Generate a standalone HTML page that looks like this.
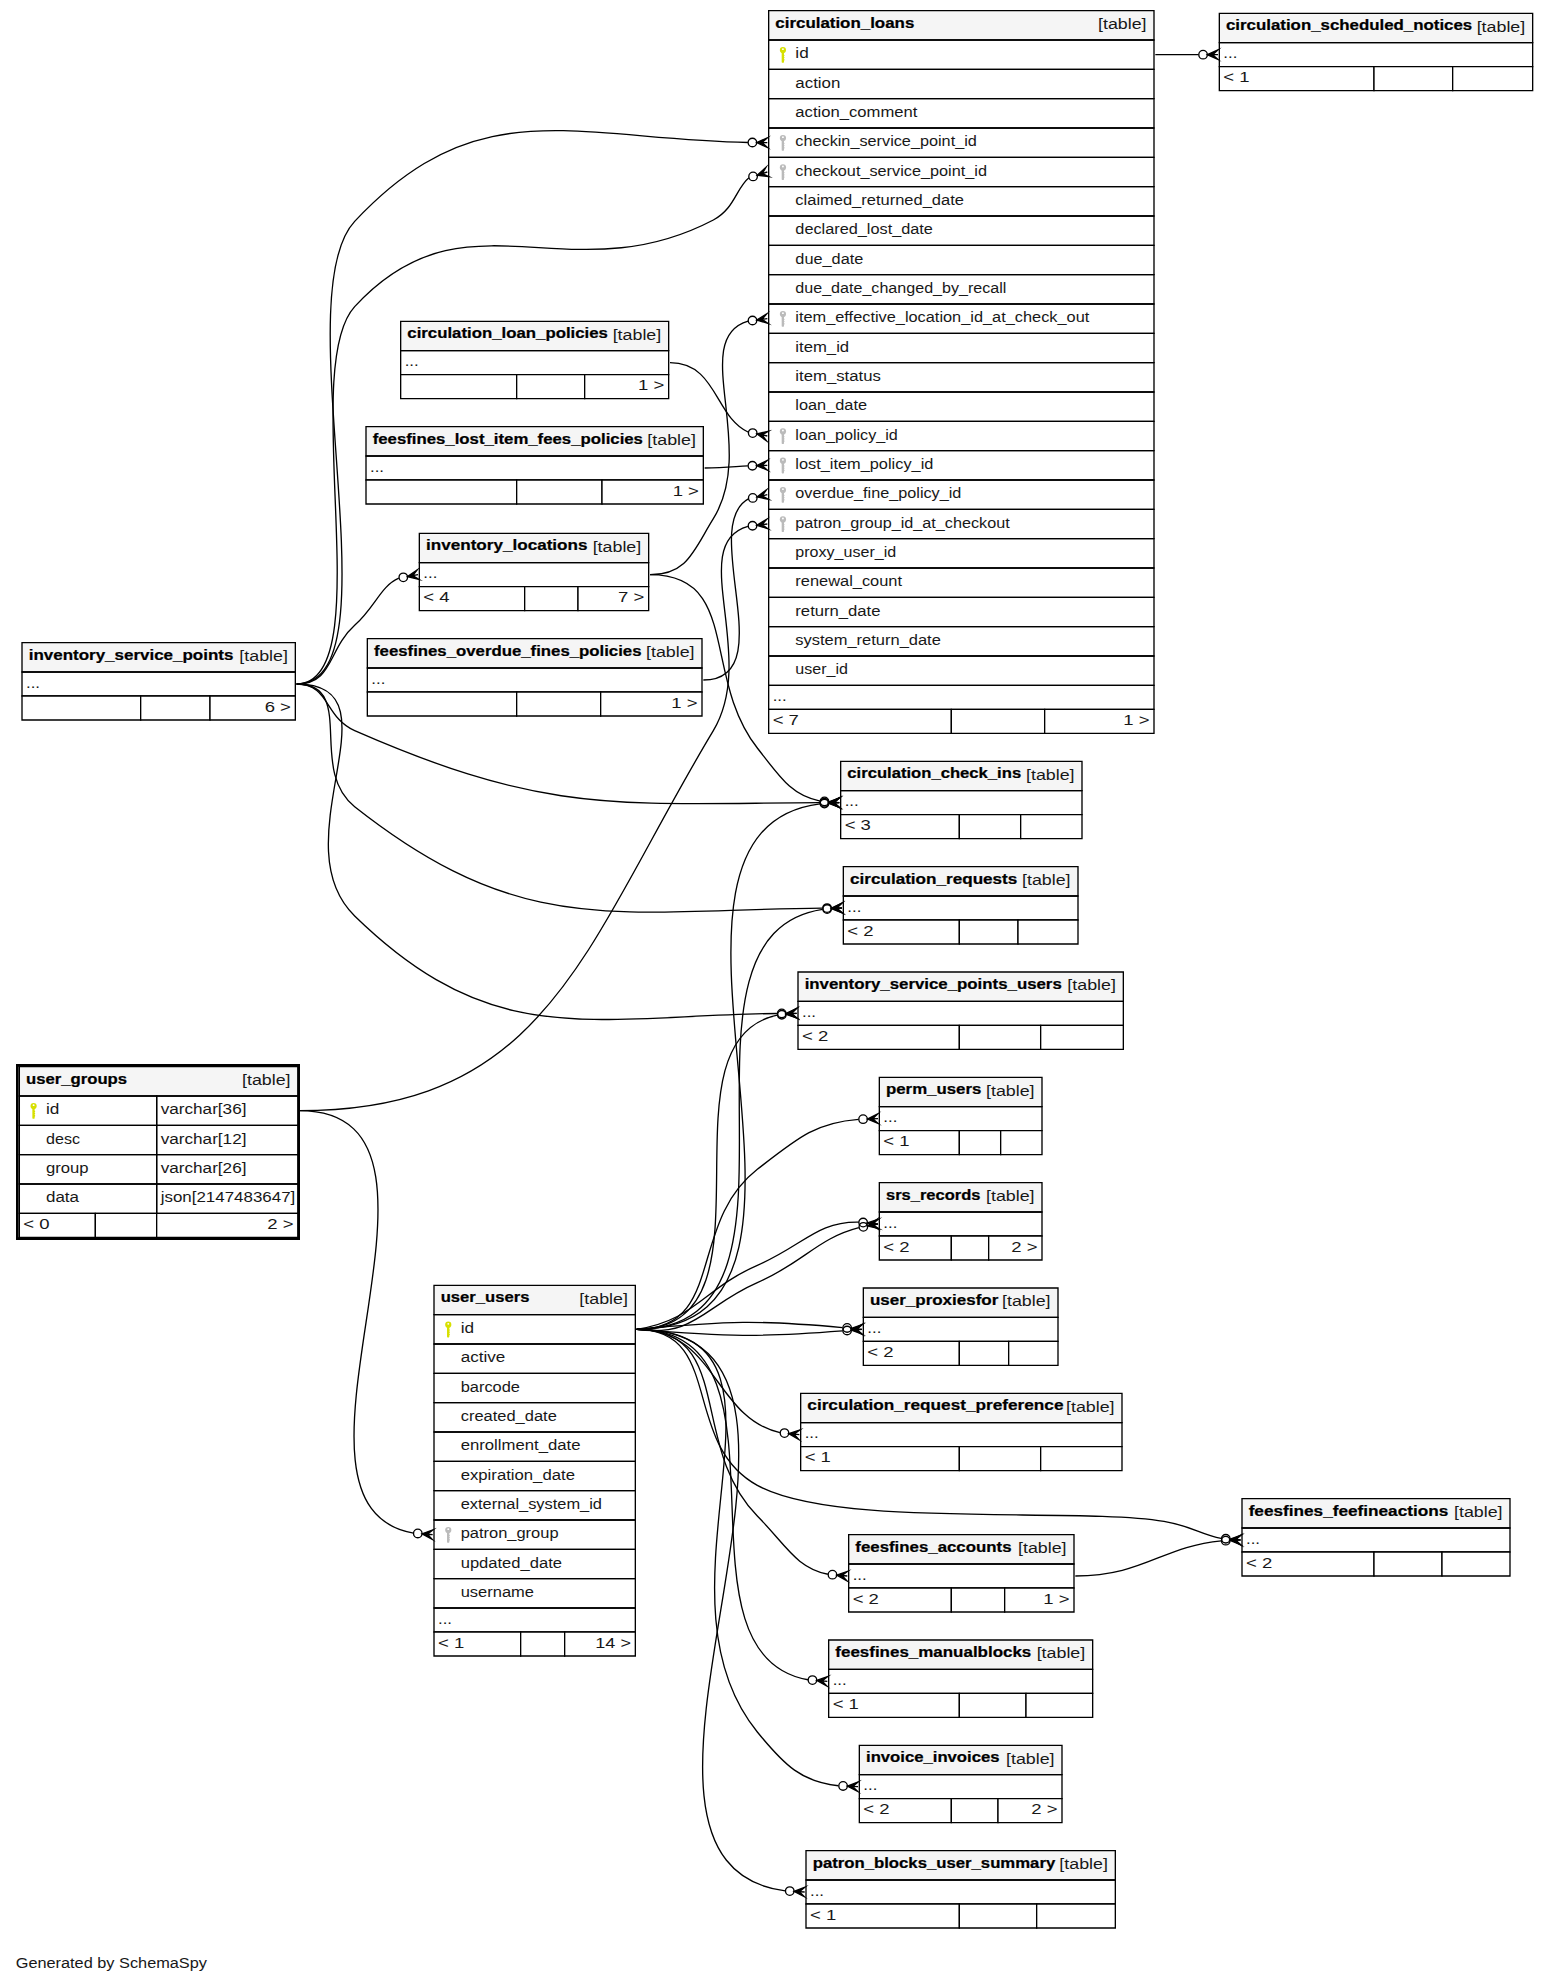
<!DOCTYPE html>
<html><head><meta charset="utf-8"><title>SchemaSpy diagram</title>
<style>html,body{margin:0;padding:0;background:#ffffff;}svg{display:block;}text{font-family:"Liberation Sans",sans-serif;}</style>
</head><body>
<svg width="1548" height="1982.67"
 viewBox="0.00 0.00 1161.00 1487.00">
<g id="graph0" class="graph" transform="scale(1 1) rotate(0) translate(4 1483)">
<polygon fill="#ffffff" stroke="transparent" points="-4,4 -4,-1483 1157,-1483 1157,4 -4,4"/>
<text text-anchor="middle" x="79.5" y="-7.2" font-family="Liberation Sans" font-size="11.35" fill="#181818" textLength="143.45" lengthAdjust="spacingAndGlyphs">Generated by SchemaSpy</text>
<g id="node1" class="node">
<g id="a_node1"><g>
<polygon fill="#ffffff" stroke="transparent" points="626,-854 626,-912 807,-912 807,-854 626,-854"/>
<polygon fill="#f5f5f5" stroke="transparent" points="626.5,-890 626.5,-912 807.5,-912 807.5,-890 626.5,-890"/>
<polygon fill="none" stroke="black" points="626.5,-890 626.5,-912 807.5,-912 807.5,-890 626.5,-890"/>
<text text-anchor="start" x="631.5" y="-899.2" font-family="Liberation Sans" font-weight="bold" font-size="11.35" stroke="#000000" stroke-width="0.18" textLength="130.38" lengthAdjust="spacingAndGlyphs">circulation_check_ins</text>
<text text-anchor="start" x="765.5" y="-898.2" font-family="Liberation Sans" font-size="11.35" fill="#181818" textLength="36.42" lengthAdjust="spacingAndGlyphs">[table]</text>
<polygon fill="none" stroke="black" points="626.5,-872 626.5,-890 807.5,-890 807.5,-872 626.5,-872"/>
<text text-anchor="start" x="629.5" y="-878.2" font-family="Liberation Sans" font-size="11.35" fill="#181818" textLength="10.49" lengthAdjust="spacingAndGlyphs">...</text>
<polygon fill="#ffffff" stroke="transparent" points="626.5,-854 626.5,-872 715.5,-872 715.5,-854 626.5,-854"/>
<polygon fill="none" stroke="black" points="626.5,-854 626.5,-872 715.5,-872 715.5,-854 626.5,-854"/>
<text text-anchor="start" x="629.5" y="-860.2" font-family="Liberation Sans" font-size="11.35" fill="#181818" textLength="19.70" lengthAdjust="spacingAndGlyphs">&lt; 3</text>
<polygon fill="#ffffff" stroke="transparent" points="715.5,-854 715.5,-872 761.5,-872 761.5,-854 715.5,-854"/>
<polygon fill="none" stroke="black" points="715.5,-854 715.5,-872 761.5,-872 761.5,-854 715.5,-854"/>

<polygon fill="#ffffff" stroke="transparent" points="761.5,-854 761.5,-872 807.5,-872 807.5,-854 761.5,-854"/>
<polygon fill="none" stroke="black" points="761.5,-854 761.5,-872 807.5,-872 807.5,-854 761.5,-854"/>

</g>
</g>
</g>
<g id="node2" class="node">
<g id="a_node2"><g>
<polygon fill="#ffffff" stroke="transparent" points="310.5,-1025 310.5,-1083 482.5,-1083 482.5,-1025 310.5,-1025"/>
<polygon fill="#f5f5f5" stroke="transparent" points="310.5,-1061 310.5,-1083 482.5,-1083 482.5,-1061 310.5,-1061"/>
<polygon fill="none" stroke="black" points="310.5,-1061 310.5,-1083 482.5,-1083 482.5,-1061 310.5,-1061"/>
<text text-anchor="start" x="315.5" y="-1070.2" font-family="Liberation Sans" font-weight="bold" font-size="11.35" stroke="#000000" stroke-width="0.18" textLength="121.13" lengthAdjust="spacingAndGlyphs">inventory_locations</text>
<text text-anchor="start" x="440.5" y="-1069.2" font-family="Liberation Sans" font-size="11.35" fill="#181818" textLength="36.42" lengthAdjust="spacingAndGlyphs">[table]</text>
<polygon fill="none" stroke="black" points="310.5,-1043 310.5,-1061 482.5,-1061 482.5,-1043 310.5,-1043"/>
<text text-anchor="start" x="313.5" y="-1049.2" font-family="Liberation Sans" font-size="11.35" fill="#181818" textLength="10.49" lengthAdjust="spacingAndGlyphs">...</text>
<polygon fill="#ffffff" stroke="transparent" points="310.5,-1025 310.5,-1043 389.5,-1043 389.5,-1025 310.5,-1025"/>
<polygon fill="none" stroke="black" points="310.5,-1025 310.5,-1043 389.5,-1043 389.5,-1025 310.5,-1025"/>
<text text-anchor="start" x="313.5" y="-1031.2" font-family="Liberation Sans" font-size="11.35" fill="#181818" textLength="19.70" lengthAdjust="spacingAndGlyphs">&lt; 4</text>
<polygon fill="#ffffff" stroke="transparent" points="389.5,-1025 389.5,-1043 429.5,-1043 429.5,-1025 389.5,-1025"/>
<polygon fill="none" stroke="black" points="389.5,-1025 389.5,-1043 429.5,-1043 429.5,-1025 389.5,-1025"/>

<polygon fill="#ffffff" stroke="transparent" points="429.5,-1025 429.5,-1043 482.5,-1043 482.5,-1025 429.5,-1025"/>
<polygon fill="none" stroke="black" points="429.5,-1025 429.5,-1043 482.5,-1043 482.5,-1025 429.5,-1025"/>
<text text-anchor="start" x="459.5" y="-1031.2" font-family="Liberation Sans" font-size="11.35" fill="#181818" textLength="19.70" lengthAdjust="spacingAndGlyphs">7 &gt;</text>
</g>
</g>
</g>
<g id="edge1" class="edge">
<path fill="none" stroke="black" d="M611.14,-882.2C589.57,-886.25 580.91,-900.37 564,-922 522.14,-975.54 551.46,-1052 483.5,-1052"/>
<polygon fill="black" stroke="black" stroke-miterlimit="10" points="617.53,-881.67 625.8,-884.59 621.51,-881.33 625.5,-881 625.5,-881 625.5,-881 621.51,-881.33 625.2,-877.41 617.53,-881.67 617.53,-881.67"/>
<ellipse fill="none" stroke="black" cx="614.34" cy="-881.93" rx="3.2" ry="3.2"/>
</g>
<g id="node3" class="node">
<g id="a_node3"><g>
<polygon fill="#ffffff" stroke="transparent" points="321,-241 321,-519 472,-519 472,-241 321,-241"/>
<polygon fill="#f5f5f5" stroke="transparent" points="321.5,-497 321.5,-519 472.5,-519 472.5,-497 321.5,-497"/>
<polygon fill="none" stroke="black" points="321.5,-497 321.5,-519 472.5,-519 472.5,-497 321.5,-497"/>
<text text-anchor="start" x="326.5" y="-506.2" font-family="Liberation Sans" font-weight="bold" font-size="11.35" stroke="#000000" stroke-width="0.18" textLength="66.54" lengthAdjust="spacingAndGlyphs">user_users</text>
<text text-anchor="start" x="430.5" y="-505.2" font-family="Liberation Sans" font-size="11.35" fill="#181818" textLength="36.42" lengthAdjust="spacingAndGlyphs">[table]</text>
<polygon fill="none" stroke="black" points="321.5,-475 321.5,-497 472.5,-497 472.5,-475 321.5,-475"/>
<text text-anchor="start" x="341.5" y="-483.2" font-family="Liberation Sans" font-size="11.35" fill="#181818" textLength="10.04" lengthAdjust="spacingAndGlyphs">id</text>
<polygon fill="none" stroke="black" points="321.5,-453 321.5,-475 472.5,-475 472.5,-453 321.5,-453"/>
<text text-anchor="start" x="341.5" y="-461.2" font-family="Liberation Sans" font-size="11.35" fill="#181818" textLength="33.42" lengthAdjust="spacingAndGlyphs">active</text>
<polygon fill="none" stroke="black" points="321.5,-431 321.5,-453 472.5,-453 472.5,-431 321.5,-431"/>
<text text-anchor="start" x="341.5" y="-439.2" font-family="Liberation Sans" font-size="11.35" fill="#181818" textLength="44.51" lengthAdjust="spacingAndGlyphs">barcode</text>
<polygon fill="none" stroke="black" points="321.5,-409 321.5,-431 472.5,-431 472.5,-409 321.5,-409"/>
<text text-anchor="start" x="341.5" y="-417.2" font-family="Liberation Sans" font-size="11.35" fill="#181818" textLength="72.15" lengthAdjust="spacingAndGlyphs">created_date</text>
<polygon fill="none" stroke="black" points="321.5,-387 321.5,-409 472.5,-409 472.5,-387 321.5,-387"/>
<text text-anchor="start" x="341.5" y="-395.2" font-family="Liberation Sans" font-size="11.35" fill="#181818" textLength="89.87" lengthAdjust="spacingAndGlyphs">enrollment_date</text>
<polygon fill="none" stroke="black" points="321.5,-365 321.5,-387 472.5,-387 472.5,-365 321.5,-365"/>
<text text-anchor="start" x="341.5" y="-373.2" font-family="Liberation Sans" font-size="11.35" fill="#181818" textLength="85.71" lengthAdjust="spacingAndGlyphs">expiration_date</text>
<polygon fill="none" stroke="black" points="321.5,-343 321.5,-365 472.5,-365 472.5,-343 321.5,-343"/>
<text text-anchor="start" x="341.5" y="-351.2" font-family="Liberation Sans" font-size="11.35" fill="#181818" textLength="106.00" lengthAdjust="spacingAndGlyphs">external_system_id</text>
<polygon fill="none" stroke="black" points="321.5,-321 321.5,-343 472.5,-343 472.5,-321 321.5,-321"/>
<text text-anchor="start" x="341.5" y="-329.2" font-family="Liberation Sans" font-size="11.35" fill="#181818" textLength="73.42" lengthAdjust="spacingAndGlyphs">patron_group</text>
<polygon fill="none" stroke="black" points="321.5,-299 321.5,-321 472.5,-321 472.5,-299 321.5,-299"/>
<text text-anchor="start" x="341.5" y="-307.2" font-family="Liberation Sans" font-size="11.35" fill="#181818" textLength="76.00" lengthAdjust="spacingAndGlyphs">updated_date</text>
<polygon fill="none" stroke="black" points="321.5,-277 321.5,-299 472.5,-299 472.5,-277 321.5,-277"/>
<text text-anchor="start" x="341.5" y="-285.2" font-family="Liberation Sans" font-size="11.35" fill="#181818" textLength="54.96" lengthAdjust="spacingAndGlyphs">username</text>
<polygon fill="none" stroke="black" points="321.5,-259 321.5,-277 472.5,-277 472.5,-259 321.5,-259"/>
<text text-anchor="start" x="324.5" y="-265.2" font-family="Liberation Sans" font-size="11.35" fill="#181818" textLength="10.49" lengthAdjust="spacingAndGlyphs">...</text>
<polygon fill="#ffffff" stroke="transparent" points="321.5,-241 321.5,-259 386.5,-259 386.5,-241 321.5,-241"/>
<polygon fill="none" stroke="black" points="321.5,-241 321.5,-259 386.5,-259 386.5,-241 321.5,-241"/>
<text text-anchor="start" x="324.5" y="-247.2" font-family="Liberation Sans" font-size="11.35" fill="#181818" textLength="19.70" lengthAdjust="spacingAndGlyphs">&lt; 1</text>
<polygon fill="#ffffff" stroke="transparent" points="386.5,-241 386.5,-259 419.5,-259 419.5,-241 386.5,-241"/>
<polygon fill="none" stroke="black" points="386.5,-241 386.5,-259 419.5,-259 419.5,-241 386.5,-241"/>

<polygon fill="#ffffff" stroke="transparent" points="419.5,-241 419.5,-259 472.5,-259 472.5,-241 419.5,-241"/>
<polygon fill="none" stroke="black" points="419.5,-241 419.5,-259 472.5,-259 472.5,-241 419.5,-241"/>
<text text-anchor="start" x="442.5" y="-247.2" font-family="Liberation Sans" font-size="11.35" fill="#181818" textLength="26.70" lengthAdjust="spacingAndGlyphs">14 &gt;</text>
</g>
</g>
</g>
<g id="edge2" class="edge">
<path fill="none" stroke="black" d="M610.98,-880.13C449.35,-859.69 656.46,-486 473.5,-486"/>
<polygon fill="black" stroke="black" stroke-miterlimit="10" points="617.51,-880.52 625.28,-884.59 621.51,-880.76 625.5,-881 625.5,-881 625.5,-881 621.51,-880.76 625.72,-877.41 617.51,-880.52 617.51,-880.52"/>
<ellipse fill="none" stroke="black" cx="614.32" cy="-880.33" rx="3.2" ry="3.2"/>
</g>
<g id="node4" class="node">
<g id="a_node4"><g>
<polygon fill="#ffffff" stroke="transparent" points="12,-943 12,-1001 217,-1001 217,-943 12,-943"/>
<polygon fill="#f5f5f5" stroke="transparent" points="12.5,-979 12.5,-1001 217.5,-1001 217.5,-979 12.5,-979"/>
<polygon fill="none" stroke="black" points="12.5,-979 12.5,-1001 217.5,-1001 217.5,-979 12.5,-979"/>
<text text-anchor="start" x="17.5" y="-988.2" font-family="Liberation Sans" font-weight="bold" font-size="11.35" stroke="#000000" stroke-width="0.18" textLength="153.56" lengthAdjust="spacingAndGlyphs">inventory_service_points</text>
<text text-anchor="start" x="175.5" y="-987.2" font-family="Liberation Sans" font-size="11.35" fill="#181818" textLength="36.42" lengthAdjust="spacingAndGlyphs">[table]</text>
<polygon fill="none" stroke="black" points="12.5,-961 12.5,-979 217.5,-979 217.5,-961 12.5,-961"/>
<text text-anchor="start" x="15.5" y="-967.2" font-family="Liberation Sans" font-size="11.35" fill="#181818" textLength="10.49" lengthAdjust="spacingAndGlyphs">...</text>
<polygon fill="#ffffff" stroke="transparent" points="12.5,-943 12.5,-961 101.5,-961 101.5,-943 12.5,-943"/>
<polygon fill="none" stroke="black" points="12.5,-943 12.5,-961 101.5,-961 101.5,-943 12.5,-943"/>

<polygon fill="#ffffff" stroke="transparent" points="101.5,-943 101.5,-961 153.5,-961 153.5,-943 101.5,-943"/>
<polygon fill="none" stroke="black" points="101.5,-943 101.5,-961 153.5,-961 153.5,-943 101.5,-943"/>

<polygon fill="#ffffff" stroke="transparent" points="153.5,-943 153.5,-961 217.5,-961 217.5,-943 153.5,-943"/>
<polygon fill="none" stroke="black" points="153.5,-943 153.5,-961 217.5,-961 217.5,-943 153.5,-943"/>
<text text-anchor="start" x="194.5" y="-949.2" font-family="Liberation Sans" font-size="11.35" fill="#181818" textLength="19.70" lengthAdjust="spacingAndGlyphs">6 &gt;</text>
</g>
</g>
</g>
<g id="edge3" class="edge">
<path fill="none" stroke="black" d="M610.97,-880.97C459.02,-880.38 407.1,-871.5 262,-935 239.27,-944.95 243.31,-970 218.5,-970"/>
<polygon fill="black" stroke="black" stroke-miterlimit="10" points="617.5,-880.98 625.49,-884.6 621.5,-880.99 625.5,-881 625.5,-881 625.5,-881 621.5,-880.99 625.51,-877.4 617.5,-880.98 617.5,-880.98"/>
<ellipse fill="none" stroke="black" cx="614.3" cy="-880.98" rx="3.2" ry="3.2"/>
</g>
<g id="edge19" class="edge">
<path fill="none" stroke="black" d="M295.1,-1049.37C281.36,-1043.38 277.7,-1028.13 262,-1014 241.56,-995.6 246,-970 218.5,-970"/>
<polygon fill="black" stroke="black" stroke-miterlimit="10" points="301.63,-1050.56 308.85,-1055.54 305.57,-1051.28 309.5,-1052 309.5,-1052 309.5,-1052 305.57,-1051.28 310.15,-1048.46 301.63,-1050.56 301.63,-1050.56"/>
<ellipse fill="none" stroke="black" cx="298.48" cy="-1049.99" rx="3.2" ry="3.2"/>
</g>
<g id="node9" class="node">
<g id="a_node9"><g>
<polygon fill="#ffffff" stroke="transparent" points="8,-553 8,-685 221,-685 221,-553 8,-553"/>
<polygon fill="#f5f5f5" stroke="transparent" points="10.5,-661 10.5,-683 219.5,-683 219.5,-661 10.5,-661"/>
<polygon fill="none" stroke="black" points="10.5,-661 10.5,-683 219.5,-683 219.5,-661 10.5,-661"/>
<text text-anchor="start" x="15.5" y="-670.2" font-family="Liberation Sans" font-weight="bold" font-size="11.35" stroke="#000000" stroke-width="0.18" textLength="75.82" lengthAdjust="spacingAndGlyphs">user_groups</text>
<text text-anchor="start" x="177.5" y="-669.2" font-family="Liberation Sans" font-size="11.35" fill="#181818" textLength="36.42" lengthAdjust="spacingAndGlyphs">[table]</text>
<polygon fill="none" stroke="black" points="10.5,-639 10.5,-661 113.5,-661 113.5,-639 10.5,-639"/>
<text text-anchor="start" x="30.5" y="-647.2" font-family="Liberation Sans" font-size="11.35" fill="#181818" textLength="10.04" lengthAdjust="spacingAndGlyphs">id</text>
<polygon fill="none" stroke="black" points="113.5,-639 113.5,-661 219.5,-661 219.5,-639 113.5,-639"/>
<text text-anchor="start" x="116.5" y="-647.2" font-family="Liberation Sans" font-size="11.35" fill="#181818" textLength="64.36" lengthAdjust="spacingAndGlyphs">varchar[36]</text>
<polygon fill="none" stroke="black" points="10.5,-617 10.5,-639 113.5,-639 113.5,-617 10.5,-617"/>
<text text-anchor="start" x="30.5" y="-625.2" font-family="Liberation Sans" font-size="11.35" fill="#181818" textLength="25.51" lengthAdjust="spacingAndGlyphs">desc</text>
<polygon fill="none" stroke="black" points="113.5,-617 113.5,-639 219.5,-639 219.5,-617 113.5,-617"/>
<text text-anchor="start" x="116.5" y="-625.2" font-family="Liberation Sans" font-size="11.35" fill="#181818" textLength="64.36" lengthAdjust="spacingAndGlyphs">varchar[12]</text>
<polygon fill="none" stroke="black" points="10.5,-595 10.5,-617 113.5,-617 113.5,-595 10.5,-595"/>
<text text-anchor="start" x="30.5" y="-603.2" font-family="Liberation Sans" font-size="11.35" fill="#181818" textLength="31.93" lengthAdjust="spacingAndGlyphs">group</text>
<polygon fill="none" stroke="black" points="113.5,-595 113.5,-617 219.5,-617 219.5,-595 113.5,-595"/>
<text text-anchor="start" x="116.5" y="-603.2" font-family="Liberation Sans" font-size="11.35" fill="#181818" textLength="64.36" lengthAdjust="spacingAndGlyphs">varchar[26]</text>
<polygon fill="none" stroke="black" points="10.5,-573 10.5,-595 113.5,-595 113.5,-573 10.5,-573"/>
<text text-anchor="start" x="30.5" y="-581.2" font-family="Liberation Sans" font-size="11.35" fill="#181818" textLength="24.76" lengthAdjust="spacingAndGlyphs">data</text>
<polygon fill="none" stroke="black" points="113.5,-573 113.5,-595 219.5,-595 219.5,-573 113.5,-573"/>
<text text-anchor="start" x="116.5" y="-581.2" font-family="Liberation Sans" font-size="11.35" fill="#181818" textLength="100.99" lengthAdjust="spacingAndGlyphs">json[2147483647]</text>
<polygon fill="#ffffff" stroke="transparent" points="10.5,-555 10.5,-573 67.5,-573 67.5,-555 10.5,-555"/>
<polygon fill="none" stroke="black" points="10.5,-555 10.5,-573 67.5,-573 67.5,-555 10.5,-555"/>
<text text-anchor="start" x="13.5" y="-561.2" font-family="Liberation Sans" font-size="11.35" fill="#181818" textLength="19.70" lengthAdjust="spacingAndGlyphs">&lt; 0</text>
<polygon fill="#ffffff" stroke="transparent" points="67.5,-555 67.5,-573 113.5,-573 113.5,-555 67.5,-555"/>
<polygon fill="none" stroke="black" points="67.5,-555 67.5,-573 113.5,-573 113.5,-555 67.5,-555"/>

<polygon fill="#ffffff" stroke="transparent" points="113.5,-555 113.5,-573 219.5,-573 219.5,-555 113.5,-555"/>
<polygon fill="none" stroke="black" points="113.5,-555 113.5,-573 219.5,-573 219.5,-555 113.5,-555"/>
<text text-anchor="start" x="196.5" y="-561.2" font-family="Liberation Sans" font-size="11.35" fill="#181818" textLength="19.70" lengthAdjust="spacingAndGlyphs">2 &gt;</text>
<polygon fill="none" stroke="black" stroke-width="2" points="9,-554 9,-684 220,-684 220,-554 9,-554"/>
</g>
</g>
</g>
<g id="edge29" class="edge">
<path fill="none" stroke="black" d="M306.12,-333.15C185.72,-353.97 363.45,-650 220.5,-650"/>
<polygon fill="black" stroke="black" stroke-miterlimit="10" points="312.53,-332.64 320.79,-335.59 316.51,-332.32 320.5,-332 320.5,-332 320.5,-332 316.51,-332.32 320.21,-328.41 312.53,-332.64 312.53,-332.64"/>
<ellipse fill="none" stroke="black" cx="309.34" cy="-332.89" rx="3.2" ry="3.2"/>
</g>
<g id="node5" class="node">
<g id="a_node5"><g>
<polygon fill="#ffffff" stroke="transparent" points="572,-933 572,-1475 861,-1475 861,-933 572,-933"/>
<polygon fill="#f5f5f5" stroke="transparent" points="572.5,-1453 572.5,-1475 861.5,-1475 861.5,-1453 572.5,-1453"/>
<polygon fill="none" stroke="black" points="572.5,-1453 572.5,-1475 861.5,-1475 861.5,-1453 572.5,-1453"/>
<text text-anchor="start" x="577.5" y="-1462.2" font-family="Liberation Sans" font-weight="bold" font-size="11.35" stroke="#000000" stroke-width="0.18" textLength="104.24" lengthAdjust="spacingAndGlyphs">circulation_loans</text>
<text text-anchor="start" x="819.5" y="-1461.2" font-family="Liberation Sans" font-size="11.35" fill="#181818" textLength="36.42" lengthAdjust="spacingAndGlyphs">[table]</text>
<polygon fill="none" stroke="black" points="572.5,-1431 572.5,-1453 861.5,-1453 861.5,-1431 572.5,-1431"/>
<text text-anchor="start" x="592.5" y="-1439.2" font-family="Liberation Sans" font-size="11.35" fill="#181818" textLength="10.04" lengthAdjust="spacingAndGlyphs">id</text>
<polygon fill="none" stroke="black" points="572.5,-1409 572.5,-1431 861.5,-1431 861.5,-1409 572.5,-1409"/>
<text text-anchor="start" x="592.5" y="-1417.2" font-family="Liberation Sans" font-size="11.35" fill="#181818" textLength="33.84" lengthAdjust="spacingAndGlyphs">action</text>
<polygon fill="none" stroke="black" points="572.5,-1387 572.5,-1409 861.5,-1409 861.5,-1387 572.5,-1387"/>
<text text-anchor="start" x="592.5" y="-1395.2" font-family="Liberation Sans" font-size="11.35" fill="#181818" textLength="91.56" lengthAdjust="spacingAndGlyphs">action_comment</text>
<polygon fill="none" stroke="black" points="572.5,-1365 572.5,-1387 861.5,-1387 861.5,-1365 572.5,-1365"/>
<text text-anchor="start" x="592.5" y="-1373.2" font-family="Liberation Sans" font-size="11.35" fill="#181818" textLength="136.14" lengthAdjust="spacingAndGlyphs">checkin_service_point_id</text>
<polygon fill="none" stroke="black" points="572.5,-1343 572.5,-1365 861.5,-1365 861.5,-1343 572.5,-1343"/>
<text text-anchor="start" x="592.5" y="-1351.2" font-family="Liberation Sans" font-size="11.35" fill="#181818" textLength="143.73" lengthAdjust="spacingAndGlyphs">checkout_service_point_id</text>
<polygon fill="none" stroke="black" points="572.5,-1321 572.5,-1343 861.5,-1343 861.5,-1321 572.5,-1321"/>
<text text-anchor="start" x="592.5" y="-1329.2" font-family="Liberation Sans" font-size="11.35" fill="#181818" textLength="126.47" lengthAdjust="spacingAndGlyphs">claimed_returned_date</text>
<polygon fill="none" stroke="black" points="572.5,-1299 572.5,-1321 861.5,-1321 861.5,-1299 572.5,-1299"/>
<text text-anchor="start" x="592.5" y="-1307.2" font-family="Liberation Sans" font-size="11.35" fill="#181818" textLength="103.20" lengthAdjust="spacingAndGlyphs">declared_lost_date</text>
<polygon fill="none" stroke="black" points="572.5,-1277 572.5,-1299 861.5,-1299 861.5,-1277 572.5,-1277"/>
<text text-anchor="start" x="592.5" y="-1285.2" font-family="Liberation Sans" font-size="11.35" fill="#181818" textLength="51.00" lengthAdjust="spacingAndGlyphs">due_date</text>
<polygon fill="none" stroke="black" points="572.5,-1255 572.5,-1277 861.5,-1277 861.5,-1255 572.5,-1255"/>
<text text-anchor="start" x="592.5" y="-1263.2" font-family="Liberation Sans" font-size="11.35" fill="#181818" textLength="158.32" lengthAdjust="spacingAndGlyphs">due_date_changed_by_recall</text>
<polygon fill="none" stroke="black" points="572.5,-1233 572.5,-1255 861.5,-1255 861.5,-1233 572.5,-1233"/>
<text text-anchor="start" x="592.5" y="-1241.2" font-family="Liberation Sans" font-size="11.35" fill="#181818" textLength="220.47" lengthAdjust="spacingAndGlyphs">item_effective_location_id_at_check_out</text>
<polygon fill="none" stroke="black" points="572.5,-1211 572.5,-1233 861.5,-1233 861.5,-1211 572.5,-1211"/>
<text text-anchor="start" x="592.5" y="-1219.2" font-family="Liberation Sans" font-size="11.35" fill="#181818" textLength="40.37" lengthAdjust="spacingAndGlyphs">item_id</text>
<polygon fill="none" stroke="black" points="572.5,-1189 572.5,-1211 861.5,-1211 861.5,-1189 572.5,-1189"/>
<text text-anchor="start" x="592.5" y="-1197.2" font-family="Liberation Sans" font-size="11.35" fill="#181818" textLength="64.11" lengthAdjust="spacingAndGlyphs">item_status</text>
<polygon fill="none" stroke="black" points="572.5,-1167 572.5,-1189 861.5,-1189 861.5,-1167 572.5,-1167"/>
<text text-anchor="start" x="592.5" y="-1175.2" font-family="Liberation Sans" font-size="11.35" fill="#181818" textLength="53.77" lengthAdjust="spacingAndGlyphs">loan_date</text>
<polygon fill="none" stroke="black" points="572.5,-1145 572.5,-1167 861.5,-1167 861.5,-1145 572.5,-1145"/>
<text text-anchor="start" x="592.5" y="-1153.2" font-family="Liberation Sans" font-size="11.35" fill="#181818" textLength="76.88" lengthAdjust="spacingAndGlyphs">loan_policy_id</text>
<polygon fill="none" stroke="black" points="572.5,-1123 572.5,-1145 861.5,-1145 861.5,-1123 572.5,-1123"/>
<text text-anchor="start" x="592.5" y="-1131.2" font-family="Liberation Sans" font-size="11.35" fill="#181818" textLength="103.54" lengthAdjust="spacingAndGlyphs">lost_item_policy_id</text>
<polygon fill="none" stroke="black" points="572.5,-1101 572.5,-1123 861.5,-1123 861.5,-1101 572.5,-1101"/>
<text text-anchor="start" x="592.5" y="-1109.2" font-family="Liberation Sans" font-size="11.35" fill="#181818" textLength="124.56" lengthAdjust="spacingAndGlyphs">overdue_fine_policy_id</text>
<polygon fill="none" stroke="black" points="572.5,-1079 572.5,-1101 861.5,-1101 861.5,-1079 572.5,-1079"/>
<text text-anchor="start" x="592.5" y="-1087.2" font-family="Liberation Sans" font-size="11.35" fill="#181818" textLength="160.78" lengthAdjust="spacingAndGlyphs">patron_group_id_at_checkout</text>
<polygon fill="none" stroke="black" points="572.5,-1057 572.5,-1079 861.5,-1079 861.5,-1057 572.5,-1057"/>
<text text-anchor="start" x="592.5" y="-1065.2" font-family="Liberation Sans" font-size="11.35" fill="#181818" textLength="75.66" lengthAdjust="spacingAndGlyphs">proxy_user_id</text>
<polygon fill="none" stroke="black" points="572.5,-1035 572.5,-1057 861.5,-1057 861.5,-1035 572.5,-1035"/>
<text text-anchor="start" x="592.5" y="-1043.2" font-family="Liberation Sans" font-size="11.35" fill="#181818" textLength="80.06" lengthAdjust="spacingAndGlyphs">renewal_count</text>
<polygon fill="none" stroke="black" points="572.5,-1013 572.5,-1035 861.5,-1035 861.5,-1013 572.5,-1013"/>
<text text-anchor="start" x="592.5" y="-1021.2" font-family="Liberation Sans" font-size="11.35" fill="#181818" textLength="63.90" lengthAdjust="spacingAndGlyphs">return_date</text>
<polygon fill="none" stroke="black" points="572.5,-991 572.5,-1013 861.5,-1013 861.5,-991 572.5,-991"/>
<text text-anchor="start" x="592.5" y="-999.2" font-family="Liberation Sans" font-size="11.35" fill="#181818" textLength="109.14" lengthAdjust="spacingAndGlyphs">system_return_date</text>
<polygon fill="none" stroke="black" points="572.5,-969 572.5,-991 861.5,-991 861.5,-969 572.5,-969"/>
<text text-anchor="start" x="592.5" y="-977.2" font-family="Liberation Sans" font-size="11.35" fill="#181818" textLength="39.50" lengthAdjust="spacingAndGlyphs">user_id</text>
<polygon fill="none" stroke="black" points="572.5,-951 572.5,-969 861.5,-969 861.5,-951 572.5,-951"/>
<text text-anchor="start" x="575.5" y="-957.2" font-family="Liberation Sans" font-size="11.35" fill="#181818" textLength="10.49" lengthAdjust="spacingAndGlyphs">...</text>
<polygon fill="#ffffff" stroke="transparent" points="572.5,-933 572.5,-951 709.5,-951 709.5,-933 572.5,-933"/>
<polygon fill="none" stroke="black" points="572.5,-933 572.5,-951 709.5,-951 709.5,-933 572.5,-933"/>
<text text-anchor="start" x="575.5" y="-939.2" font-family="Liberation Sans" font-size="11.35" fill="#181818" textLength="19.70" lengthAdjust="spacingAndGlyphs">&lt; 7</text>
<polygon fill="#ffffff" stroke="transparent" points="709.5,-933 709.5,-951 779.5,-951 779.5,-933 709.5,-933"/>
<polygon fill="none" stroke="black" points="709.5,-933 709.5,-951 779.5,-951 779.5,-933 709.5,-933"/>

<polygon fill="#ffffff" stroke="transparent" points="779.5,-933 779.5,-951 861.5,-951 861.5,-933 779.5,-933"/>
<polygon fill="none" stroke="black" points="779.5,-933 779.5,-951 861.5,-951 861.5,-933 779.5,-933"/>
<text text-anchor="start" x="838.5" y="-939.2" font-family="Liberation Sans" font-size="11.35" fill="#181818" textLength="19.70" lengthAdjust="spacingAndGlyphs">1 &gt;</text>
</g>
</g>
</g>
<g id="edge6" class="edge">
<path fill="none" stroke="black" d="M557.08,-1242.22C512.42,-1229.24 564.42,-1147.87 531,-1094 516.14,-1070.05 511.68,-1052 483.5,-1052"/>
<polygon fill="black" stroke="black" stroke-miterlimit="10" points="563.56,-1243.02 571.06,-1247.57 567.53,-1243.51 571.5,-1244 571.5,-1244 571.5,-1244 567.53,-1243.51 571.94,-1240.43 563.56,-1243.02 563.56,-1243.02"/>
<ellipse fill="none" stroke="black" cx="560.38" cy="-1242.63" rx="3.2" ry="3.2"/>
</g>
<g id="edge4" class="edge">
<path fill="none" stroke="black" d="M556.97,-1376.15C426.26,-1378.85 354.45,-1415.53 262,-1317 208.82,-1260.33 296.21,-970 218.5,-970"/>
<polygon fill="black" stroke="black" stroke-miterlimit="10" points="563.5,-1376.08 571.54,-1379.6 567.5,-1376.04 571.5,-1376 571.5,-1376 571.5,-1376 567.5,-1376.04 571.46,-1372.4 563.5,-1376.08 563.5,-1376.08"/>
<ellipse fill="none" stroke="black" cx="560.3" cy="-1376.12" rx="3.2" ry="3.2"/>
</g>
<g id="edge5" class="edge">
<path fill="none" stroke="black" d="M557.71,-1349.71C548.21,-1342.1 546.84,-1326.28 531,-1318 422.01,-1261 345.22,-1343.57 262,-1253 218.95,-1206.15 282.13,-970 218.5,-970"/>
<polygon fill="black" stroke="black" stroke-miterlimit="10" points="563.86,-1351.62 570.43,-1357.44 567.68,-1352.81 571.5,-1354 571.5,-1354 571.5,-1354 567.68,-1352.81 572.57,-1350.56 563.86,-1351.62 563.86,-1351.62"/>
<ellipse fill="none" stroke="black" cx="560.81" cy="-1350.67" rx="3.2" ry="3.2"/>
</g>
<g id="node6" class="node">
<g id="a_node6"><g>
<polygon fill="#ffffff" stroke="transparent" points="296,-1184 296,-1242 497,-1242 497,-1184 296,-1184"/>
<polygon fill="#f5f5f5" stroke="transparent" points="296.5,-1220 296.5,-1242 497.5,-1242 497.5,-1220 296.5,-1220"/>
<polygon fill="none" stroke="black" points="296.5,-1220 296.5,-1242 497.5,-1242 497.5,-1220 296.5,-1220"/>
<text text-anchor="start" x="301.5" y="-1229.2" font-family="Liberation Sans" font-weight="bold" font-size="11.35" stroke="#000000" stroke-width="0.18" textLength="150.43" lengthAdjust="spacingAndGlyphs">circulation_loan_policies</text>
<text text-anchor="start" x="455.5" y="-1228.2" font-family="Liberation Sans" font-size="11.35" fill="#181818" textLength="36.42" lengthAdjust="spacingAndGlyphs">[table]</text>
<polygon fill="none" stroke="black" points="296.5,-1202 296.5,-1220 497.5,-1220 497.5,-1202 296.5,-1202"/>
<text text-anchor="start" x="299.5" y="-1208.2" font-family="Liberation Sans" font-size="11.35" fill="#181818" textLength="10.49" lengthAdjust="spacingAndGlyphs">...</text>
<polygon fill="#ffffff" stroke="transparent" points="296.5,-1184 296.5,-1202 383.5,-1202 383.5,-1184 296.5,-1184"/>
<polygon fill="none" stroke="black" points="296.5,-1184 296.5,-1202 383.5,-1202 383.5,-1184 296.5,-1184"/>

<polygon fill="#ffffff" stroke="transparent" points="383.5,-1184 383.5,-1202 434.5,-1202 434.5,-1184 383.5,-1184"/>
<polygon fill="none" stroke="black" points="383.5,-1184 383.5,-1202 434.5,-1202 434.5,-1184 383.5,-1184"/>

<polygon fill="#ffffff" stroke="transparent" points="434.5,-1184 434.5,-1202 497.5,-1202 497.5,-1184 434.5,-1184"/>
<polygon fill="none" stroke="black" points="434.5,-1184 434.5,-1202 497.5,-1202 497.5,-1184 434.5,-1184"/>
<text text-anchor="start" x="474.5" y="-1190.2" font-family="Liberation Sans" font-size="11.35" fill="#181818" textLength="19.70" lengthAdjust="spacingAndGlyphs">1 &gt;</text>
</g>
</g>
</g>
<g id="edge7" class="edge">
<path fill="none" stroke="black" d="M557.33,-1158.8C532.22,-1170.01 533.57,-1211 498.5,-1211"/>
<polygon fill="black" stroke="black" stroke-miterlimit="10" points="563.65,-1157.55 572.2,-1159.53 567.58,-1156.78 571.5,-1156 571.5,-1156 571.5,-1156 567.58,-1156.78 570.8,-1152.47 563.65,-1157.55 563.65,-1157.55"/>
<ellipse fill="none" stroke="black" cx="560.51" cy="-1158.17" rx="3.2" ry="3.2"/>
</g>
<g id="node7" class="node">
<g id="a_node7"><g>
<polygon fill="#ffffff" stroke="transparent" points="270,-1105 270,-1163 523,-1163 523,-1105 270,-1105"/>
<polygon fill="#f5f5f5" stroke="transparent" points="270.5,-1141 270.5,-1163 523.5,-1163 523.5,-1141 270.5,-1141"/>
<polygon fill="none" stroke="black" points="270.5,-1141 270.5,-1163 523.5,-1163 523.5,-1141 270.5,-1141"/>
<text text-anchor="start" x="275.5" y="-1150.2" font-family="Liberation Sans" font-weight="bold" font-size="11.35" stroke="#000000" stroke-width="0.18" textLength="202.72" lengthAdjust="spacingAndGlyphs">feesfines_lost_item_fees_policies</text>
<text text-anchor="start" x="481.5" y="-1149.2" font-family="Liberation Sans" font-size="11.35" fill="#181818" textLength="36.42" lengthAdjust="spacingAndGlyphs">[table]</text>
<polygon fill="none" stroke="black" points="270.5,-1123 270.5,-1141 523.5,-1141 523.5,-1123 270.5,-1123"/>
<text text-anchor="start" x="273.5" y="-1129.2" font-family="Liberation Sans" font-size="11.35" fill="#181818" textLength="10.49" lengthAdjust="spacingAndGlyphs">...</text>
<polygon fill="#ffffff" stroke="transparent" points="270.5,-1105 270.5,-1123 383.5,-1123 383.5,-1105 270.5,-1105"/>
<polygon fill="none" stroke="black" points="270.5,-1105 270.5,-1123 383.5,-1123 383.5,-1105 270.5,-1105"/>

<polygon fill="#ffffff" stroke="transparent" points="383.5,-1105 383.5,-1123 447.5,-1123 447.5,-1105 383.5,-1105"/>
<polygon fill="none" stroke="black" points="383.5,-1105 383.5,-1123 447.5,-1123 447.5,-1105 383.5,-1105"/>

<polygon fill="#ffffff" stroke="transparent" points="447.5,-1105 447.5,-1123 523.5,-1123 523.5,-1105 447.5,-1105"/>
<polygon fill="none" stroke="black" points="447.5,-1105 447.5,-1123 523.5,-1123 523.5,-1105 447.5,-1105"/>
<text text-anchor="start" x="500.5" y="-1111.2" font-family="Liberation Sans" font-size="11.35" fill="#181818" textLength="19.70" lengthAdjust="spacingAndGlyphs">1 &gt;</text>
</g>
</g>
</g>
<g id="edge8" class="edge">
<path fill="none" stroke="black" d="M556.89,-1133.61C546.43,-1133.03 539.53,-1132 524.5,-1132"/>
<polygon fill="black" stroke="black" stroke-miterlimit="10" points="563.5,-1133.79 571.4,-1137.6 567.5,-1133.89 571.5,-1134 571.5,-1134 571.5,-1134 567.5,-1133.89 571.6,-1130.4 563.5,-1133.79 563.5,-1133.79"/>
<ellipse fill="none" stroke="black" cx="560.3" cy="-1133.7" rx="3.2" ry="3.2"/>
</g>
<g id="node8" class="node">
<g id="a_node8"><g>
<polygon fill="#ffffff" stroke="transparent" points="271,-946 271,-1004 522,-1004 522,-946 271,-946"/>
<polygon fill="#f5f5f5" stroke="transparent" points="271.5,-982 271.5,-1004 522.5,-1004 522.5,-982 271.5,-982"/>
<polygon fill="none" stroke="black" points="271.5,-982 271.5,-1004 522.5,-1004 522.5,-982 271.5,-982"/>
<text text-anchor="start" x="276.5" y="-991.2" font-family="Liberation Sans" font-weight="bold" font-size="11.35" stroke="#000000" stroke-width="0.18" textLength="200.65" lengthAdjust="spacingAndGlyphs">feesfines_overdue_fines_policies</text>
<text text-anchor="start" x="480.5" y="-990.2" font-family="Liberation Sans" font-size="11.35" fill="#181818" textLength="36.42" lengthAdjust="spacingAndGlyphs">[table]</text>
<polygon fill="none" stroke="black" points="271.5,-964 271.5,-982 522.5,-982 522.5,-964 271.5,-964"/>
<text text-anchor="start" x="274.5" y="-970.2" font-family="Liberation Sans" font-size="11.35" fill="#181818" textLength="10.49" lengthAdjust="spacingAndGlyphs">...</text>
<polygon fill="#ffffff" stroke="transparent" points="271.5,-946 271.5,-964 383.5,-964 383.5,-946 271.5,-946"/>
<polygon fill="none" stroke="black" points="271.5,-946 271.5,-964 383.5,-964 383.5,-946 271.5,-946"/>

<polygon fill="#ffffff" stroke="transparent" points="383.5,-946 383.5,-964 446.5,-964 446.5,-946 383.5,-946"/>
<polygon fill="none" stroke="black" points="383.5,-946 383.5,-964 446.5,-964 446.5,-946 383.5,-946"/>

<polygon fill="#ffffff" stroke="transparent" points="446.5,-946 446.5,-964 522.5,-964 522.5,-946 446.5,-946"/>
<polygon fill="none" stroke="black" points="446.5,-946 446.5,-964 522.5,-964 522.5,-946 446.5,-946"/>
<text text-anchor="start" x="499.5" y="-952.2" font-family="Liberation Sans" font-size="11.35" fill="#181818" textLength="19.70" lengthAdjust="spacingAndGlyphs">1 &gt;</text>
</g>
</g>
</g>
<g id="edge9" class="edge">
<path fill="none" stroke="black" d="M557.26,-1108.84C519.81,-1088.15 582.99,-973 523.5,-973"/>
<polygon fill="black" stroke="black" stroke-miterlimit="10" points="563.69,-1110.27 570.72,-1115.51 567.6,-1111.13 571.5,-1112 571.5,-1112 571.5,-1112 567.6,-1111.13 572.28,-1108.49 563.69,-1110.27 563.69,-1110.27"/>
<ellipse fill="none" stroke="black" cx="560.57" cy="-1109.57" rx="3.2" ry="3.2"/>
</g>
<g id="edge10" class="edge">
<path fill="none" stroke="black" d="M556.94,-1088.26C510.43,-1075.16 564.78,-991.12 531,-935 434.39,-774.52 407.82,-650 220.5,-650"/>
<polygon fill="black" stroke="black" stroke-miterlimit="10" points="563.56,-1089.05 571.07,-1093.57 567.53,-1089.52 571.5,-1090 571.5,-1090 571.5,-1090 567.53,-1089.52 571.93,-1086.43 563.56,-1089.05 563.56,-1089.05"/>
<ellipse fill="none" stroke="black" cx="560.38" cy="-1088.67" rx="3.2" ry="3.2"/>
</g>
<g id="node10" class="node">
<g id="a_node10"><g>
<polygon fill="#ffffff" stroke="transparent" points="596,-380 596,-438 837,-438 837,-380 596,-380"/>
<polygon fill="#f5f5f5" stroke="transparent" points="596.5,-416 596.5,-438 837.5,-438 837.5,-416 596.5,-416"/>
<polygon fill="none" stroke="black" points="596.5,-416 596.5,-438 837.5,-438 837.5,-416 596.5,-416"/>
<text text-anchor="start" x="601.5" y="-425.2" font-family="Liberation Sans" font-weight="bold" font-size="11.35" stroke="#000000" stroke-width="0.18" textLength="192.11" lengthAdjust="spacingAndGlyphs">circulation_request_preference</text>
<text text-anchor="start" x="795.5" y="-424.2" font-family="Liberation Sans" font-size="11.35" fill="#181818" textLength="36.42" lengthAdjust="spacingAndGlyphs">[table]</text>
<polygon fill="none" stroke="black" points="596.5,-398 596.5,-416 837.5,-416 837.5,-398 596.5,-398"/>
<text text-anchor="start" x="599.5" y="-404.2" font-family="Liberation Sans" font-size="11.35" fill="#181818" textLength="10.49" lengthAdjust="spacingAndGlyphs">...</text>
<polygon fill="#ffffff" stroke="transparent" points="596.5,-380 596.5,-398 715.5,-398 715.5,-380 596.5,-380"/>
<polygon fill="none" stroke="black" points="596.5,-380 596.5,-398 715.5,-398 715.5,-380 596.5,-380"/>
<text text-anchor="start" x="599.5" y="-386.2" font-family="Liberation Sans" font-size="11.35" fill="#181818" textLength="19.70" lengthAdjust="spacingAndGlyphs">&lt; 1</text>
<polygon fill="#ffffff" stroke="transparent" points="715.5,-380 715.5,-398 776.5,-398 776.5,-380 715.5,-380"/>
<polygon fill="none" stroke="black" points="715.5,-380 715.5,-398 776.5,-398 776.5,-380 715.5,-380"/>

<polygon fill="#ffffff" stroke="transparent" points="776.5,-380 776.5,-398 837.5,-398 837.5,-380 776.5,-380"/>
<polygon fill="none" stroke="black" points="776.5,-380 776.5,-398 837.5,-398 837.5,-380 776.5,-380"/>

</g>
</g>
</g>
<g id="edge11" class="edge">
<path fill="none" stroke="black" d="M580.97,-408.51C531.6,-419.43 532.8,-486 473.5,-486"/>
<polygon fill="black" stroke="black" stroke-miterlimit="10" points="587.54,-407.83 595.87,-410.58 591.52,-407.41 595.5,-407 595.5,-407 595.5,-407 591.52,-407.41 595.13,-403.42 587.54,-407.83 587.54,-407.83"/>
<ellipse fill="none" stroke="black" cx="584.36" cy="-408.16" rx="3.2" ry="3.2"/>
</g>
<g id="node11" class="node">
<g id="a_node11"><g>
<polygon fill="#ffffff" stroke="transparent" points="628.5,-775 628.5,-833 804.5,-833 804.5,-775 628.5,-775"/>
<polygon fill="#f5f5f5" stroke="transparent" points="628.5,-811 628.5,-833 804.5,-833 804.5,-811 628.5,-811"/>
<polygon fill="none" stroke="black" points="628.5,-811 628.5,-833 804.5,-833 804.5,-811 628.5,-811"/>
<text text-anchor="start" x="633.5" y="-820.2" font-family="Liberation Sans" font-weight="bold" font-size="11.35" stroke="#000000" stroke-width="0.18" textLength="125.50" lengthAdjust="spacingAndGlyphs">circulation_requests</text>
<text text-anchor="start" x="762.5" y="-819.2" font-family="Liberation Sans" font-size="11.35" fill="#181818" textLength="36.42" lengthAdjust="spacingAndGlyphs">[table]</text>
<polygon fill="none" stroke="black" points="628.5,-793 628.5,-811 804.5,-811 804.5,-793 628.5,-793"/>
<text text-anchor="start" x="631.5" y="-799.2" font-family="Liberation Sans" font-size="11.35" fill="#181818" textLength="10.49" lengthAdjust="spacingAndGlyphs">...</text>
<polygon fill="#ffffff" stroke="transparent" points="628.5,-775 628.5,-793 715.5,-793 715.5,-775 628.5,-775"/>
<polygon fill="none" stroke="black" points="628.5,-775 628.5,-793 715.5,-793 715.5,-775 628.5,-775"/>
<text text-anchor="start" x="631.5" y="-781.2" font-family="Liberation Sans" font-size="11.35" fill="#181818" textLength="19.70" lengthAdjust="spacingAndGlyphs">&lt; 2</text>
<polygon fill="#ffffff" stroke="transparent" points="715.5,-775 715.5,-793 759.5,-793 759.5,-775 715.5,-775"/>
<polygon fill="none" stroke="black" points="715.5,-775 715.5,-793 759.5,-793 759.5,-775 715.5,-775"/>

<polygon fill="#ffffff" stroke="transparent" points="759.5,-775 759.5,-793 804.5,-793 804.5,-775 759.5,-775"/>
<polygon fill="none" stroke="black" points="759.5,-775 759.5,-793 804.5,-793 804.5,-775 759.5,-775"/>

</g>
</g>
</g>
<g id="edge13" class="edge">
<path fill="none" stroke="black" d="M612.96,-800.98C481.44,-781.36 624.55,-486 473.5,-486"/>
<polygon fill="black" stroke="black" stroke-miterlimit="10" points="619.52,-801.44 627.25,-805.59 623.51,-801.72 627.5,-802 627.5,-802 627.5,-802 623.51,-801.72 627.75,-798.41 619.52,-801.44 619.52,-801.44"/>
<ellipse fill="none" stroke="black" cx="616.33" cy="-801.21" rx="3.2" ry="3.2"/>
</g>
<g id="edge12" class="edge">
<path fill="none" stroke="black" d="M612.69,-801.93C457.33,-800.5 388.41,-778.46 262,-878 226.47,-905.98 263.73,-970 218.5,-970"/>
<polygon fill="black" stroke="black" stroke-miterlimit="10" points="619.5,-801.96 627.48,-805.6 623.5,-801.98 627.5,-802 627.5,-802 627.5,-802 623.5,-801.98 627.52,-798.4 619.5,-801.96 619.5,-801.96"/>
<ellipse fill="none" stroke="black" cx="616.3" cy="-801.95" rx="3.2" ry="3.2"/>
</g>
<g id="node12" class="node">
<g id="a_node12"><g>
<polygon fill="#ffffff" stroke="transparent" points="910,-1415 910,-1473 1145,-1473 1145,-1415 910,-1415"/>
<polygon fill="#f5f5f5" stroke="transparent" points="910.5,-1451 910.5,-1473 1145.5,-1473 1145.5,-1451 910.5,-1451"/>
<polygon fill="none" stroke="black" points="910.5,-1451 910.5,-1473 1145.5,-1473 1145.5,-1451 910.5,-1451"/>
<text text-anchor="start" x="915.5" y="-1460.2" font-family="Liberation Sans" font-weight="bold" font-size="11.35" stroke="#000000" stroke-width="0.18" textLength="184.67" lengthAdjust="spacingAndGlyphs">circulation_scheduled_notices</text>
<text text-anchor="start" x="1103.5" y="-1459.2" font-family="Liberation Sans" font-size="11.35" fill="#181818" textLength="36.42" lengthAdjust="spacingAndGlyphs">[table]</text>
<polygon fill="none" stroke="black" points="910.5,-1433 910.5,-1451 1145.5,-1451 1145.5,-1433 910.5,-1433"/>
<text text-anchor="start" x="913.5" y="-1439.2" font-family="Liberation Sans" font-size="11.35" fill="#181818" textLength="10.49" lengthAdjust="spacingAndGlyphs">...</text>
<polygon fill="#ffffff" stroke="transparent" points="910.5,-1415 910.5,-1433 1026.5,-1433 1026.5,-1415 910.5,-1415"/>
<polygon fill="none" stroke="black" points="910.5,-1415 910.5,-1433 1026.5,-1433 1026.5,-1415 910.5,-1415"/>
<text text-anchor="start" x="913.5" y="-1421.2" font-family="Liberation Sans" font-size="11.35" fill="#181818" textLength="19.70" lengthAdjust="spacingAndGlyphs">&lt; 1</text>
<polygon fill="#ffffff" stroke="transparent" points="1026.5,-1415 1026.5,-1433 1085.5,-1433 1085.5,-1415 1026.5,-1415"/>
<polygon fill="none" stroke="black" points="1026.5,-1415 1026.5,-1433 1085.5,-1433 1085.5,-1415 1026.5,-1415"/>

<polygon fill="#ffffff" stroke="transparent" points="1085.5,-1415 1085.5,-1433 1145.5,-1433 1145.5,-1415 1085.5,-1415"/>
<polygon fill="none" stroke="black" points="1085.5,-1415 1085.5,-1433 1145.5,-1433 1145.5,-1415 1085.5,-1415"/>

</g>
</g>
</g>
<g id="edge14" class="edge">
<path fill="none" stroke="black" d="M894.9,-1442C884.43,-1442 877.51,-1442 862.5,-1442"/>
<polygon fill="black" stroke="black" stroke-miterlimit="10" points="901.5,-1442 909.5,-1445.6 905.5,-1442 909.5,-1442 909.5,-1442 909.5,-1442 905.5,-1442 909.5,-1438.4 901.5,-1442 901.5,-1442"/>
<ellipse fill="none" stroke="black" cx="898.3" cy="-1442" rx="3.2" ry="3.2"/>
</g>
<g id="node13" class="node">
<g id="a_node13"><g>
<polygon fill="#ffffff" stroke="transparent" points="632,-274 632,-332 801,-332 801,-274 632,-274"/>
<polygon fill="#f5f5f5" stroke="transparent" points="632.5,-310 632.5,-332 801.5,-332 801.5,-310 632.5,-310"/>
<polygon fill="none" stroke="black" points="632.5,-310 632.5,-332 801.5,-332 801.5,-310 632.5,-310"/>
<text text-anchor="start" x="637.5" y="-319.2" font-family="Liberation Sans" font-weight="bold" font-size="11.35" stroke="#000000" stroke-width="0.18" textLength="117.15" lengthAdjust="spacingAndGlyphs">feesfines_accounts</text>
<text text-anchor="start" x="759.5" y="-318.2" font-family="Liberation Sans" font-size="11.35" fill="#181818" textLength="36.42" lengthAdjust="spacingAndGlyphs">[table]</text>
<polygon fill="none" stroke="black" points="632.5,-292 632.5,-310 801.5,-310 801.5,-292 632.5,-292"/>
<text text-anchor="start" x="635.5" y="-298.2" font-family="Liberation Sans" font-size="11.35" fill="#181818" textLength="10.49" lengthAdjust="spacingAndGlyphs">...</text>
<polygon fill="#ffffff" stroke="transparent" points="632.5,-274 632.5,-292 709.5,-292 709.5,-274 632.5,-274"/>
<polygon fill="none" stroke="black" points="632.5,-274 632.5,-292 709.5,-292 709.5,-274 632.5,-274"/>
<text text-anchor="start" x="635.5" y="-280.2" font-family="Liberation Sans" font-size="11.35" fill="#181818" textLength="19.70" lengthAdjust="spacingAndGlyphs">&lt; 2</text>
<polygon fill="#ffffff" stroke="transparent" points="709.5,-274 709.5,-292 749.5,-292 749.5,-274 709.5,-274"/>
<polygon fill="none" stroke="black" points="709.5,-274 709.5,-292 749.5,-292 749.5,-274 709.5,-274"/>

<polygon fill="#ffffff" stroke="transparent" points="749.5,-274 749.5,-292 801.5,-292 801.5,-274 749.5,-274"/>
<polygon fill="none" stroke="black" points="749.5,-274 749.5,-292 801.5,-292 801.5,-274 749.5,-274"/>
<text text-anchor="start" x="778.5" y="-280.2" font-family="Liberation Sans" font-size="11.35" fill="#181818" textLength="19.70" lengthAdjust="spacingAndGlyphs">1 &gt;</text>
</g>
</g>
</g>
<g id="edge15" class="edge">
<path fill="none" stroke="black" d="M616.93,-302.3C593.13,-307.04 585.46,-324.24 564,-346 511.98,-398.76 547.59,-486 473.5,-486"/>
<polygon fill="black" stroke="black" stroke-miterlimit="10" points="623.53,-301.71 631.82,-304.59 627.52,-301.36 631.5,-301 631.5,-301 631.5,-301 627.52,-301.36 631.18,-297.41 623.53,-301.71 623.53,-301.71"/>
<ellipse fill="none" stroke="black" cx="620.34" cy="-302" rx="3.2" ry="3.2"/>
</g>
<g id="node14" class="node">
<g id="a_node14"><g>
<polygon fill="#ffffff" stroke="transparent" points="927,-301 927,-359 1128,-359 1128,-301 927,-301"/>
<polygon fill="#f5f5f5" stroke="transparent" points="927.5,-337 927.5,-359 1128.5,-359 1128.5,-337 927.5,-337"/>
<polygon fill="none" stroke="black" points="927.5,-337 927.5,-359 1128.5,-359 1128.5,-337 927.5,-337"/>
<text text-anchor="start" x="932.5" y="-346.2" font-family="Liberation Sans" font-weight="bold" font-size="11.35" stroke="#000000" stroke-width="0.18" textLength="149.71" lengthAdjust="spacingAndGlyphs">feesfines_feefineactions</text>
<text text-anchor="start" x="1086.5" y="-345.2" font-family="Liberation Sans" font-size="11.35" fill="#181818" textLength="36.42" lengthAdjust="spacingAndGlyphs">[table]</text>
<polygon fill="none" stroke="black" points="927.5,-319 927.5,-337 1128.5,-337 1128.5,-319 927.5,-319"/>
<text text-anchor="start" x="930.5" y="-325.2" font-family="Liberation Sans" font-size="11.35" fill="#181818" textLength="10.49" lengthAdjust="spacingAndGlyphs">...</text>
<polygon fill="#ffffff" stroke="transparent" points="927.5,-301 927.5,-319 1026.5,-319 1026.5,-301 927.5,-301"/>
<polygon fill="none" stroke="black" points="927.5,-301 927.5,-319 1026.5,-319 1026.5,-301 927.5,-301"/>
<text text-anchor="start" x="930.5" y="-307.2" font-family="Liberation Sans" font-size="11.35" fill="#181818" textLength="19.70" lengthAdjust="spacingAndGlyphs">&lt; 2</text>
<polygon fill="#ffffff" stroke="transparent" points="1026.5,-301 1026.5,-319 1077.5,-319 1077.5,-301 1026.5,-301"/>
<polygon fill="none" stroke="black" points="1026.5,-301 1026.5,-319 1077.5,-319 1077.5,-301 1026.5,-301"/>

<polygon fill="#ffffff" stroke="transparent" points="1077.5,-301 1077.5,-319 1128.5,-319 1128.5,-301 1077.5,-301"/>
<polygon fill="none" stroke="black" points="1077.5,-301 1077.5,-319 1128.5,-319 1128.5,-301 1077.5,-301"/>

</g>
</g>
</g>
<g id="edge17" class="edge">
<path fill="none" stroke="black" d="M911.82,-329.24C896.91,-331.99 889.27,-338.65 869,-342 801.87,-353.08 623.7,-336.36 564,-369 506.32,-400.54 539.24,-486 473.5,-486"/>
<polygon fill="black" stroke="black" stroke-miterlimit="10" points="918.53,-328.67 926.8,-331.59 922.51,-328.34 926.5,-328 926.5,-328 926.5,-328 922.51,-328.34 926.2,-324.41 918.53,-328.67 918.53,-328.67"/>
<ellipse fill="none" stroke="black" cx="915.34" cy="-328.94" rx="3.2" ry="3.2"/>
</g>
<g id="edge16" class="edge">
<path fill="none" stroke="black" d="M912.04,-327.36C867.66,-323.27 853.72,-301 802.5,-301"/>
<polygon fill="black" stroke="black" stroke-miterlimit="10" points="918.51,-327.65 926.34,-331.6 922.5,-327.82 926.5,-328 926.5,-328 926.5,-328 922.5,-327.82 926.66,-324.4 918.51,-327.65 918.51,-327.65"/>
<ellipse fill="none" stroke="black" cx="915.31" cy="-327.5" rx="3.2" ry="3.2"/>
</g>
<g id="node15" class="node">
<g id="a_node15"><g>
<polygon fill="#ffffff" stroke="transparent" points="617.5,-195 617.5,-253 815.5,-253 815.5,-195 617.5,-195"/>
<polygon fill="#f5f5f5" stroke="transparent" points="617.5,-231 617.5,-253 815.5,-253 815.5,-231 617.5,-231"/>
<polygon fill="none" stroke="black" points="617.5,-231 617.5,-253 815.5,-253 815.5,-231 617.5,-231"/>
<text text-anchor="start" x="622.5" y="-240.2" font-family="Liberation Sans" font-weight="bold" font-size="11.35" stroke="#000000" stroke-width="0.18" textLength="146.98" lengthAdjust="spacingAndGlyphs">feesfines_manualblocks</text>
<text text-anchor="start" x="773.5" y="-239.2" font-family="Liberation Sans" font-size="11.35" fill="#181818" textLength="36.42" lengthAdjust="spacingAndGlyphs">[table]</text>
<polygon fill="none" stroke="black" points="617.5,-213 617.5,-231 815.5,-231 815.5,-213 617.5,-213"/>
<text text-anchor="start" x="620.5" y="-219.2" font-family="Liberation Sans" font-size="11.35" fill="#181818" textLength="10.49" lengthAdjust="spacingAndGlyphs">...</text>
<polygon fill="#ffffff" stroke="transparent" points="617.5,-195 617.5,-213 715.5,-213 715.5,-195 617.5,-195"/>
<polygon fill="none" stroke="black" points="617.5,-195 617.5,-213 715.5,-213 715.5,-195 617.5,-195"/>
<text text-anchor="start" x="620.5" y="-201.2" font-family="Liberation Sans" font-size="11.35" fill="#181818" textLength="19.70" lengthAdjust="spacingAndGlyphs">&lt; 1</text>
<polygon fill="#ffffff" stroke="transparent" points="715.5,-195 715.5,-213 765.5,-213 765.5,-195 715.5,-195"/>
<polygon fill="none" stroke="black" points="715.5,-195 715.5,-213 765.5,-213 765.5,-195 715.5,-195"/>

<polygon fill="#ffffff" stroke="transparent" points="765.5,-195 765.5,-213 815.5,-213 815.5,-195 765.5,-195"/>
<polygon fill="none" stroke="black" points="765.5,-195 765.5,-213 815.5,-213 815.5,-195 765.5,-195"/>

</g>
</g>
</g>
<g id="edge18" class="edge">
<path fill="none" stroke="black" d="M602.01,-223.18C492.34,-242.22 601.73,-486 473.5,-486"/>
<polygon fill="black" stroke="black" stroke-miterlimit="10" points="608.53,-222.65 616.79,-225.59 612.51,-222.32 616.5,-222 616.5,-222 616.5,-222 612.51,-222.32 616.21,-218.41 608.53,-222.65 608.53,-222.65"/>
<ellipse fill="none" stroke="black" cx="605.34" cy="-222.91" rx="3.2" ry="3.2"/>
</g>
<g id="node16" class="node">
<g id="a_node16"><g>
<polygon fill="#ffffff" stroke="transparent" points="594.5,-696 594.5,-754 838.5,-754 838.5,-696 594.5,-696"/>
<polygon fill="#f5f5f5" stroke="transparent" points="594.5,-732 594.5,-754 838.5,-754 838.5,-732 594.5,-732"/>
<polygon fill="none" stroke="black" points="594.5,-732 594.5,-754 838.5,-754 838.5,-732 594.5,-732"/>
<text text-anchor="start" x="599.5" y="-741.2" font-family="Liberation Sans" font-weight="bold" font-size="11.35" stroke="#000000" stroke-width="0.18" textLength="192.84" lengthAdjust="spacingAndGlyphs">inventory_service_points_users</text>
<text text-anchor="start" x="796.5" y="-740.2" font-family="Liberation Sans" font-size="11.35" fill="#181818" textLength="36.42" lengthAdjust="spacingAndGlyphs">[table]</text>
<polygon fill="none" stroke="black" points="594.5,-714 594.5,-732 838.5,-732 838.5,-714 594.5,-714"/>
<text text-anchor="start" x="597.5" y="-720.2" font-family="Liberation Sans" font-size="11.35" fill="#181818" textLength="10.49" lengthAdjust="spacingAndGlyphs">...</text>
<polygon fill="#ffffff" stroke="transparent" points="594.5,-696 594.5,-714 715.5,-714 715.5,-696 594.5,-696"/>
<polygon fill="none" stroke="black" points="594.5,-696 594.5,-714 715.5,-714 715.5,-696 594.5,-696"/>
<text text-anchor="start" x="597.5" y="-702.2" font-family="Liberation Sans" font-size="11.35" fill="#181818" textLength="19.70" lengthAdjust="spacingAndGlyphs">&lt; 2</text>
<polygon fill="#ffffff" stroke="transparent" points="715.5,-696 715.5,-714 776.5,-714 776.5,-696 715.5,-696"/>
<polygon fill="none" stroke="black" points="715.5,-696 715.5,-714 776.5,-714 776.5,-696 715.5,-696"/>

<polygon fill="#ffffff" stroke="transparent" points="776.5,-696 776.5,-714 838.5,-714 838.5,-696 776.5,-696"/>
<polygon fill="none" stroke="black" points="776.5,-696 776.5,-714 838.5,-714 838.5,-696 776.5,-696"/>

</g>
</g>
</g>
<g id="edge21" class="edge">
<path fill="none" stroke="black" d="M578.96,-721.61C485.4,-702.19 586.26,-486 473.5,-486"/>
<polygon fill="black" stroke="black" stroke-miterlimit="10" points="585.54,-722.24 593.16,-726.58 589.52,-722.62 593.5,-723 593.5,-723 593.5,-723 589.52,-722.62 593.84,-719.42 585.54,-722.24 585.54,-722.24"/>
<ellipse fill="none" stroke="black" cx="582.35" cy="-721.93" rx="3.2" ry="3.2"/>
</g>
<g id="edge20" class="edge">
<path fill="none" stroke="black" d="M578.73,-722.9C437.79,-721.02 366.58,-694.33 262,-796 204.84,-851.56 298.21,-970 218.5,-970"/>
<polygon fill="black" stroke="black" stroke-miterlimit="10" points="585.5,-722.95 593.48,-726.6 589.5,-722.97 593.5,-723 593.5,-723 593.5,-723 589.5,-722.97 593.52,-719.4 585.5,-722.95 585.5,-722.95"/>
<ellipse fill="none" stroke="black" cx="582.3" cy="-722.92" rx="3.2" ry="3.2"/>
</g>
<g id="node17" class="node">
<g id="a_node17"><g>
<polygon fill="#ffffff" stroke="transparent" points="640.5,-116 640.5,-174 792.5,-174 792.5,-116 640.5,-116"/>
<polygon fill="#f5f5f5" stroke="transparent" points="640.5,-152 640.5,-174 792.5,-174 792.5,-152 640.5,-152"/>
<polygon fill="none" stroke="black" points="640.5,-152 640.5,-174 792.5,-174 792.5,-152 640.5,-152"/>
<text text-anchor="start" x="645.5" y="-161.2" font-family="Liberation Sans" font-weight="bold" font-size="11.35" stroke="#000000" stroke-width="0.18" textLength="100.15" lengthAdjust="spacingAndGlyphs">invoice_invoices</text>
<text text-anchor="start" x="750.5" y="-160.2" font-family="Liberation Sans" font-size="11.35" fill="#181818" textLength="36.42" lengthAdjust="spacingAndGlyphs">[table]</text>
<polygon fill="none" stroke="black" points="640.5,-134 640.5,-152 792.5,-152 792.5,-134 640.5,-134"/>
<text text-anchor="start" x="643.5" y="-140.2" font-family="Liberation Sans" font-size="11.35" fill="#181818" textLength="10.49" lengthAdjust="spacingAndGlyphs">...</text>
<polygon fill="#ffffff" stroke="transparent" points="640.5,-116 640.5,-134 709.5,-134 709.5,-116 640.5,-116"/>
<polygon fill="none" stroke="black" points="640.5,-116 640.5,-134 709.5,-134 709.5,-116 640.5,-116"/>
<text text-anchor="start" x="643.5" y="-122.2" font-family="Liberation Sans" font-size="11.35" fill="#181818" textLength="19.70" lengthAdjust="spacingAndGlyphs">&lt; 2</text>
<polygon fill="#ffffff" stroke="transparent" points="709.5,-116 709.5,-134 744.5,-134 744.5,-116 709.5,-116"/>
<polygon fill="none" stroke="black" points="709.5,-116 709.5,-134 744.5,-134 744.5,-116 709.5,-116"/>

<polygon fill="#ffffff" stroke="transparent" points="744.5,-116 744.5,-134 792.5,-134 792.5,-116 744.5,-116"/>
<polygon fill="none" stroke="black" points="744.5,-116 744.5,-134 792.5,-134 792.5,-116 744.5,-116"/>
<text text-anchor="start" x="769.5" y="-122.2" font-family="Liberation Sans" font-size="11.35" fill="#181818" textLength="19.70" lengthAdjust="spacingAndGlyphs">2 &gt;</text>
</g>
</g>
</g>
<g id="edge22" class="edge">
<path fill="none" stroke="black" d="M624.77,-143.69C597.38,-146.56 584.69,-158.53 564,-184 475.65,-292.76 613.62,-486 473.5,-486"/>
<polygon fill="black" stroke="black" stroke-miterlimit="10" points="631.51,-143.38 639.67,-146.6 635.5,-143.19 639.5,-143 639.5,-143 639.5,-143 635.5,-143.19 639.33,-139.4 631.51,-143.38 631.51,-143.38"/>
<ellipse fill="none" stroke="black" cx="628.31" cy="-143.53" rx="3.2" ry="3.2"/>
</g>
<g id="node18" class="node">
<g id="a_node18"><g>
<polygon fill="#ffffff" stroke="transparent" points="600.5,-37 600.5,-95 832.5,-95 832.5,-37 600.5,-37"/>
<polygon fill="#f5f5f5" stroke="transparent" points="600.5,-73 600.5,-95 832.5,-95 832.5,-73 600.5,-73"/>
<polygon fill="none" stroke="black" points="600.5,-73 600.5,-95 832.5,-95 832.5,-73 600.5,-73"/>
<text text-anchor="start" x="605.5" y="-82.2" font-family="Liberation Sans" font-weight="bold" font-size="11.35" stroke="#000000" stroke-width="0.18" textLength="181.91" lengthAdjust="spacingAndGlyphs">patron_blocks_user_summary</text>
<text text-anchor="start" x="790.5" y="-81.2" font-family="Liberation Sans" font-size="11.35" fill="#181818" textLength="36.42" lengthAdjust="spacingAndGlyphs">[table]</text>
<polygon fill="none" stroke="black" points="600.5,-55 600.5,-73 832.5,-73 832.5,-55 600.5,-55"/>
<text text-anchor="start" x="603.5" y="-61.2" font-family="Liberation Sans" font-size="11.35" fill="#181818" textLength="10.49" lengthAdjust="spacingAndGlyphs">...</text>
<polygon fill="#ffffff" stroke="transparent" points="600.5,-37 600.5,-55 715.5,-55 715.5,-37 600.5,-37"/>
<polygon fill="none" stroke="black" points="600.5,-37 600.5,-55 715.5,-55 715.5,-37 600.5,-37"/>
<text text-anchor="start" x="603.5" y="-43.2" font-family="Liberation Sans" font-size="11.35" fill="#181818" textLength="19.70" lengthAdjust="spacingAndGlyphs">&lt; 1</text>
<polygon fill="#ffffff" stroke="transparent" points="715.5,-37 715.5,-55 773.5,-55 773.5,-37 715.5,-37"/>
<polygon fill="none" stroke="black" points="715.5,-37 715.5,-55 773.5,-55 773.5,-37 715.5,-37"/>

<polygon fill="#ffffff" stroke="transparent" points="773.5,-37 773.5,-55 832.5,-55 832.5,-37 773.5,-37"/>
<polygon fill="none" stroke="black" points="773.5,-37 773.5,-55 832.5,-55 832.5,-37 773.5,-37"/>

</g>
</g>
</g>
<g id="edge23" class="edge">
<path fill="none" stroke="black" d="M584.96,-64.86C417.44,-85.96 664.08,-486 473.5,-486"/>
<polygon fill="black" stroke="black" stroke-miterlimit="10" points="591.51,-64.48 599.71,-67.59 595.51,-64.24 599.5,-64 599.5,-64 599.5,-64 595.51,-64.24 599.29,-60.41 591.51,-64.48 591.51,-64.48"/>
<ellipse fill="none" stroke="black" cx="588.32" cy="-64.67" rx="3.2" ry="3.2"/>
</g>
<g id="node19" class="node">
<g id="a_node19"><g>
<polygon fill="#ffffff" stroke="transparent" points="655.5,-617 655.5,-675 777.5,-675 777.5,-617 655.5,-617"/>
<polygon fill="#f5f5f5" stroke="transparent" points="655.5,-653 655.5,-675 777.5,-675 777.5,-653 655.5,-653"/>
<polygon fill="none" stroke="black" points="655.5,-653 655.5,-675 777.5,-675 777.5,-653 655.5,-653"/>
<text text-anchor="start" x="660.5" y="-662.2" font-family="Liberation Sans" font-weight="bold" font-size="11.35" stroke="#000000" stroke-width="0.18" textLength="71.48" lengthAdjust="spacingAndGlyphs">perm_users</text>
<text text-anchor="start" x="735.5" y="-661.2" font-family="Liberation Sans" font-size="11.35" fill="#181818" textLength="36.42" lengthAdjust="spacingAndGlyphs">[table]</text>
<polygon fill="none" stroke="black" points="655.5,-635 655.5,-653 777.5,-653 777.5,-635 655.5,-635"/>
<text text-anchor="start" x="658.5" y="-641.2" font-family="Liberation Sans" font-size="11.35" fill="#181818" textLength="10.49" lengthAdjust="spacingAndGlyphs">...</text>
<polygon fill="#ffffff" stroke="transparent" points="655.5,-617 655.5,-635 715.5,-635 715.5,-617 655.5,-617"/>
<polygon fill="none" stroke="black" points="655.5,-617 655.5,-635 715.5,-635 715.5,-617 655.5,-617"/>
<text text-anchor="start" x="658.5" y="-623.2" font-family="Liberation Sans" font-size="11.35" fill="#181818" textLength="19.70" lengthAdjust="spacingAndGlyphs">&lt; 1</text>
<polygon fill="#ffffff" stroke="transparent" points="715.5,-617 715.5,-635 746.5,-635 746.5,-617 715.5,-617"/>
<polygon fill="none" stroke="black" points="715.5,-617 715.5,-635 746.5,-635 746.5,-617 715.5,-617"/>

<polygon fill="#ffffff" stroke="transparent" points="746.5,-617 746.5,-635 777.5,-635 777.5,-617 746.5,-617"/>
<polygon fill="none" stroke="black" points="746.5,-617 746.5,-635 777.5,-635 777.5,-617 746.5,-617"/>

</g>
</g>
</g>
<g id="edge24" class="edge">
<path fill="none" stroke="black" d="M639.93,-643.5C607.54,-641.06 594.26,-629.54 564,-606 511.27,-564.99 540.3,-486 473.5,-486"/>
<polygon fill="black" stroke="black" stroke-miterlimit="10" points="646.5,-643.72 654.38,-647.6 650.5,-643.86 654.5,-644 654.5,-644 654.5,-644 650.5,-643.86 654.62,-640.4 646.5,-643.72 646.5,-643.72"/>
<ellipse fill="none" stroke="black" cx="643.31" cy="-643.61" rx="3.2" ry="3.2"/>
</g>
<g id="node20" class="node">
<g id="a_node20"><g>
<polygon fill="#ffffff" stroke="transparent" points="655.5,-538 655.5,-596 777.5,-596 777.5,-538 655.5,-538"/>
<polygon fill="#f5f5f5" stroke="transparent" points="655.5,-574 655.5,-596 777.5,-596 777.5,-574 655.5,-574"/>
<polygon fill="none" stroke="black" points="655.5,-574 655.5,-596 777.5,-596 777.5,-574 655.5,-574"/>
<text text-anchor="start" x="660.5" y="-583.2" font-family="Liberation Sans" font-weight="bold" font-size="11.35" stroke="#000000" stroke-width="0.18" textLength="70.78" lengthAdjust="spacingAndGlyphs">srs_records</text>
<text text-anchor="start" x="735.5" y="-582.2" font-family="Liberation Sans" font-size="11.35" fill="#181818" textLength="36.42" lengthAdjust="spacingAndGlyphs">[table]</text>
<polygon fill="none" stroke="black" points="655.5,-556 655.5,-574 777.5,-574 777.5,-556 655.5,-556"/>
<text text-anchor="start" x="658.5" y="-562.2" font-family="Liberation Sans" font-size="11.35" fill="#181818" textLength="10.49" lengthAdjust="spacingAndGlyphs">...</text>
<polygon fill="#ffffff" stroke="transparent" points="655.5,-538 655.5,-556 709.5,-556 709.5,-538 655.5,-538"/>
<polygon fill="none" stroke="black" points="655.5,-538 655.5,-556 709.5,-556 709.5,-538 655.5,-538"/>
<text text-anchor="start" x="658.5" y="-544.2" font-family="Liberation Sans" font-size="11.35" fill="#181818" textLength="19.70" lengthAdjust="spacingAndGlyphs">&lt; 2</text>
<polygon fill="#ffffff" stroke="transparent" points="709.5,-538 709.5,-556 737.5,-556 737.5,-538 709.5,-538"/>
<polygon fill="none" stroke="black" points="709.5,-538 709.5,-556 737.5,-556 737.5,-538 709.5,-538"/>

<polygon fill="#ffffff" stroke="transparent" points="737.5,-538 737.5,-556 777.5,-556 777.5,-538 737.5,-538"/>
<polygon fill="none" stroke="black" points="737.5,-538 737.5,-556 777.5,-556 777.5,-538 737.5,-538"/>
<text text-anchor="start" x="754.5" y="-544.2" font-family="Liberation Sans" font-size="11.35" fill="#181818" textLength="19.70" lengthAdjust="spacingAndGlyphs">2 &gt;</text>
</g>
</g>
</g>
<g id="edge25" class="edge">
<path fill="none" stroke="black" d="M640.14,-562.21C608.72,-554.07 599.14,-536.33 564,-521 523.53,-503.34 517.66,-480 473.5,-486"/>
<polygon fill="black" stroke="black" stroke-miterlimit="10" points="646.65,-563.47 653.81,-568.53 650.57,-564.24 654.5,-565 654.5,-565 654.5,-565 650.57,-564.24 655.19,-561.47 646.65,-563.47 646.65,-563.47"/>
<ellipse fill="none" stroke="black" cx="643.51" cy="-562.86" rx="3.2" ry="3.2"/>
</g>
<g id="edge26" class="edge">
<path fill="none" stroke="black" d="M640.14,-566.39C608.72,-567.07 599.14,-549.33 564,-534 523.53,-516.34 517.66,-493 473.5,-486"/>
<polygon fill="black" stroke="black" stroke-miterlimit="10" points="646.54,-565.77 654.85,-568.58 650.52,-565.38 654.5,-565 654.5,-565 654.5,-565 650.52,-565.38 654.15,-561.42 646.54,-565.77 646.54,-565.77"/>
<ellipse fill="none" stroke="black" cx="643.35" cy="-566.08" rx="3.2" ry="3.2"/>
</g>
<g id="node21" class="node">
<g id="a_node21"><g>
<polygon fill="#ffffff" stroke="transparent" points="643.5,-459 643.5,-517 789.5,-517 789.5,-459 643.5,-459"/>
<polygon fill="#f5f5f5" stroke="transparent" points="643.5,-495 643.5,-517 789.5,-517 789.5,-495 643.5,-495"/>
<polygon fill="none" stroke="black" points="643.5,-495 643.5,-517 789.5,-517 789.5,-495 643.5,-495"/>
<text text-anchor="start" x="648.5" y="-504.2" font-family="Liberation Sans" font-weight="bold" font-size="11.35" stroke="#000000" stroke-width="0.18" textLength="96.20" lengthAdjust="spacingAndGlyphs">user_proxiesfor</text>
<text text-anchor="start" x="747.5" y="-503.2" font-family="Liberation Sans" font-size="11.35" fill="#181818" textLength="36.42" lengthAdjust="spacingAndGlyphs">[table]</text>
<polygon fill="none" stroke="black" points="643.5,-477 643.5,-495 789.5,-495 789.5,-477 643.5,-477"/>
<text text-anchor="start" x="646.5" y="-483.2" font-family="Liberation Sans" font-size="11.35" fill="#181818" textLength="10.49" lengthAdjust="spacingAndGlyphs">...</text>
<polygon fill="#ffffff" stroke="transparent" points="643.5,-459 643.5,-477 715.5,-477 715.5,-459 643.5,-459"/>
<polygon fill="none" stroke="black" points="643.5,-459 643.5,-477 715.5,-477 715.5,-459 643.5,-459"/>
<text text-anchor="start" x="646.5" y="-465.2" font-family="Liberation Sans" font-size="11.35" fill="#181818" textLength="19.70" lengthAdjust="spacingAndGlyphs">&lt; 2</text>
<polygon fill="#ffffff" stroke="transparent" points="715.5,-459 715.5,-477 752.5,-477 752.5,-459 715.5,-459"/>
<polygon fill="none" stroke="black" points="715.5,-459 715.5,-477 752.5,-477 752.5,-459 715.5,-459"/>

<polygon fill="#ffffff" stroke="transparent" points="752.5,-459 752.5,-477 789.5,-477 789.5,-459 752.5,-459"/>
<polygon fill="none" stroke="black" points="752.5,-459 752.5,-477 789.5,-477 789.5,-459 752.5,-459"/>

</g>
</g>
</g>
<g id="edge27" class="edge">
<path fill="none" stroke="black" d="M627.85,-484.85C564.56,-480.03 543.48,-480.41 473.5,-486"/>
<polygon fill="black" stroke="black" stroke-miterlimit="10" points="634.52,-485.38 642.22,-489.59 638.51,-485.69 642.5,-486 642.5,-486 642.5,-486 638.51,-485.69 642.78,-482.41 634.52,-485.38 634.52,-485.38"/>
<ellipse fill="none" stroke="black" cx="631.33" cy="-485.13" rx="3.2" ry="3.2"/>
</g>
<g id="edge28" class="edge">
<path fill="none" stroke="black" d="M627.85,-487.34C564.56,-492.97 543.48,-492.52 473.5,-486"/>
<polygon fill="black" stroke="black" stroke-miterlimit="10" points="634.53,-486.73 642.83,-489.59 638.52,-486.36 642.5,-486 642.5,-486 642.5,-486 638.52,-486.36 642.17,-482.41 634.53,-486.73 634.53,-486.73"/>
<ellipse fill="none" stroke="black" cx="631.35" cy="-487.02" rx="3.2" ry="3.2"/>
</g>
</g>
<g transform="translate(4 1483)"><g><circle cx="583.20" cy="-1445.45" r="2.33" fill="#d7e000"/><path fill="#d7e000" d="M582.26,-1444.25 L583.99,-1444.25 L583.99,-1442.00 L584.36,-1441.78 L584.36,-1441.17 L583.99,-1440.88 L583.99,-1440.42 L584.36,-1440.12 L584.36,-1439.53 L583.99,-1439.22 L583.99,-1438.78 L584.36,-1438.47 L584.36,-1437.80 L583.99,-1437.50 L583.99,-1436.38 L583.65,-1435.92 L582.60,-1435.92 L582.26,-1436.38 Z"/><circle cx="583.20" cy="-1446.12" r="0.71" fill="#ffffff"/></g><g><circle cx="583.20" cy="-1379.45" r="2.33" fill="#bbbbbb"/><path fill="#bbbbbb" d="M582.26,-1378.25 L583.99,-1378.25 L583.99,-1376.00 L584.36,-1375.78 L584.36,-1375.17 L583.99,-1374.88 L583.99,-1374.42 L584.36,-1374.12 L584.36,-1373.53 L583.99,-1373.22 L583.99,-1372.78 L584.36,-1372.47 L584.36,-1371.80 L583.99,-1371.50 L583.99,-1370.38 L583.65,-1369.92 L582.60,-1369.92 L582.26,-1370.38 Z"/><circle cx="583.20" cy="-1380.12" r="0.71" fill="#ffffff"/></g><g><circle cx="583.20" cy="-1357.45" r="2.33" fill="#bbbbbb"/><path fill="#bbbbbb" d="M582.26,-1356.25 L583.99,-1356.25 L583.99,-1354.00 L584.36,-1353.78 L584.36,-1353.17 L583.99,-1352.88 L583.99,-1352.42 L584.36,-1352.12 L584.36,-1351.53 L583.99,-1351.22 L583.99,-1350.78 L584.36,-1350.47 L584.36,-1349.80 L583.99,-1349.50 L583.99,-1348.38 L583.65,-1347.92 L582.60,-1347.92 L582.26,-1348.38 Z"/><circle cx="583.20" cy="-1358.12" r="0.71" fill="#ffffff"/></g><g><circle cx="583.20" cy="-1247.45" r="2.33" fill="#bbbbbb"/><path fill="#bbbbbb" d="M582.26,-1246.25 L583.99,-1246.25 L583.99,-1244.00 L584.36,-1243.78 L584.36,-1243.17 L583.99,-1242.88 L583.99,-1242.42 L584.36,-1242.12 L584.36,-1241.53 L583.99,-1241.22 L583.99,-1240.78 L584.36,-1240.47 L584.36,-1239.80 L583.99,-1239.50 L583.99,-1238.38 L583.65,-1237.92 L582.60,-1237.92 L582.26,-1238.38 Z"/><circle cx="583.20" cy="-1248.12" r="0.71" fill="#ffffff"/></g><g><circle cx="583.20" cy="-1159.45" r="2.33" fill="#bbbbbb"/><path fill="#bbbbbb" d="M582.26,-1158.25 L583.99,-1158.25 L583.99,-1156.00 L584.36,-1155.78 L584.36,-1155.17 L583.99,-1154.88 L583.99,-1154.42 L584.36,-1154.12 L584.36,-1153.53 L583.99,-1153.22 L583.99,-1152.78 L584.36,-1152.47 L584.36,-1151.80 L583.99,-1151.50 L583.99,-1150.38 L583.65,-1149.92 L582.60,-1149.92 L582.26,-1150.38 Z"/><circle cx="583.20" cy="-1160.12" r="0.71" fill="#ffffff"/></g><g><circle cx="583.20" cy="-1137.45" r="2.33" fill="#bbbbbb"/><path fill="#bbbbbb" d="M582.26,-1136.25 L583.99,-1136.25 L583.99,-1134.00 L584.36,-1133.78 L584.36,-1133.17 L583.99,-1132.88 L583.99,-1132.42 L584.36,-1132.12 L584.36,-1131.53 L583.99,-1131.22 L583.99,-1130.78 L584.36,-1130.47 L584.36,-1129.80 L583.99,-1129.50 L583.99,-1128.38 L583.65,-1127.92 L582.60,-1127.92 L582.26,-1128.38 Z"/><circle cx="583.20" cy="-1138.12" r="0.71" fill="#ffffff"/></g><g><circle cx="583.20" cy="-1115.45" r="2.33" fill="#bbbbbb"/><path fill="#bbbbbb" d="M582.26,-1114.25 L583.99,-1114.25 L583.99,-1112.00 L584.36,-1111.78 L584.36,-1111.17 L583.99,-1110.88 L583.99,-1110.42 L584.36,-1110.12 L584.36,-1109.53 L583.99,-1109.22 L583.99,-1108.78 L584.36,-1108.47 L584.36,-1107.80 L583.99,-1107.50 L583.99,-1106.38 L583.65,-1105.92 L582.60,-1105.92 L582.26,-1106.38 Z"/><circle cx="583.20" cy="-1116.12" r="0.71" fill="#ffffff"/></g><g><circle cx="583.20" cy="-1093.45" r="2.33" fill="#bbbbbb"/><path fill="#bbbbbb" d="M582.26,-1092.25 L583.99,-1092.25 L583.99,-1090.00 L584.36,-1089.78 L584.36,-1089.17 L583.99,-1088.88 L583.99,-1088.42 L584.36,-1088.12 L584.36,-1087.53 L583.99,-1087.22 L583.99,-1086.78 L584.36,-1086.47 L584.36,-1085.80 L583.99,-1085.50 L583.99,-1084.38 L583.65,-1083.92 L582.60,-1083.92 L582.26,-1084.38 Z"/><circle cx="583.20" cy="-1094.12" r="0.71" fill="#ffffff"/></g><g><circle cx="332.20" cy="-489.45" r="2.33" fill="#d7e000"/><path fill="#d7e000" d="M331.26,-488.25 L332.99,-488.25 L332.99,-486.00 L333.36,-485.77 L333.36,-485.18 L332.99,-484.88 L332.99,-484.43 L333.36,-484.12 L333.36,-483.52 L332.99,-483.23 L332.99,-482.77 L333.36,-482.48 L333.36,-481.80 L332.99,-481.50 L332.99,-480.38 L332.65,-479.93 L331.60,-479.93 L331.26,-480.38 Z"/><circle cx="332.20" cy="-490.12" r="0.71" fill="#ffffff"/></g><g><circle cx="332.20" cy="-335.45" r="2.33" fill="#bbbbbb"/><path fill="#bbbbbb" d="M331.26,-334.25 L332.99,-334.25 L332.99,-332.00 L333.36,-331.77 L333.36,-331.18 L332.99,-330.88 L332.99,-330.43 L333.36,-330.12 L333.36,-329.52 L332.99,-329.23 L332.99,-328.77 L333.36,-328.48 L333.36,-327.80 L332.99,-327.50 L332.99,-326.38 L332.65,-325.93 L331.60,-325.93 L331.26,-326.38 Z"/><circle cx="332.20" cy="-336.12" r="0.71" fill="#ffffff"/></g><g><circle cx="21.20" cy="-653.45" r="2.33" fill="#d7e000"/><path fill="#d7e000" d="M20.26,-652.25 L21.99,-652.25 L21.99,-650.00 L22.36,-649.77 L22.36,-649.17 L21.99,-648.88 L21.99,-648.42 L22.36,-648.12 L22.36,-647.52 L21.99,-647.23 L21.99,-646.77 L22.36,-646.48 L22.36,-645.80 L21.99,-645.50 L21.99,-644.38 L21.65,-643.92 L20.60,-643.92 L20.26,-644.38 Z"/><circle cx="21.20" cy="-654.12" r="0.71" fill="#ffffff"/></g></g>
</svg>

</body></html>
